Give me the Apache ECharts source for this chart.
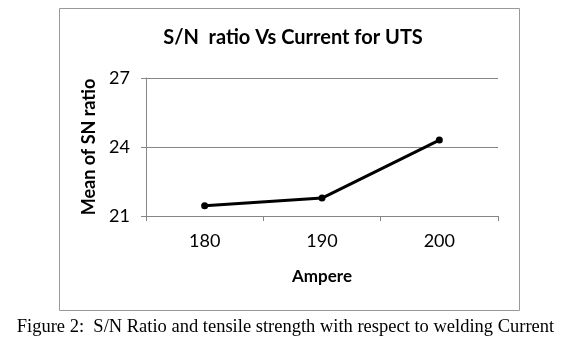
<!DOCTYPE html>
<html lang="en">
<head>
  <meta charset="UTF-8">
  <script src="https://cdn.jsdelivr.net/npm/echarts@6.0.0/dist/echarts.min.js"></script>
  <style>
    body, html { margin: 0; padding: 0; width: 100%; height: 100%; background: #fff; overflow: hidden; }
    #main { width: 571px; height: 350px; }
  </style>
</head>
<body>
  <div id="main"></div>
  <script type="text/javascript">
    // data
    var amperes = ['180', '190', '200'];
    var snMeans = [21.45, 21.78, 24.3];
    var yTicks = { min: 21, max: 27, step: 3 };

    var chart = echarts.init(document.getElementById('main'));
    var axisGray = '#868686';
    var font = 'Lato, "Open Sans", sans-serif';

    var option = {
      backgroundColor: '#fff',
      animation: false,
      title: {
        text: 'S/N  ratio Vs Current for UTS',
        left: 288,
        top: 23,
        textAlign: 'center',
        textStyle: { fontFamily: font, fontSize: 20, fontWeight: 'bold', color: '#000' }
      },
      grid: { left: 146, right: 73, top: 78, bottom: 134 },
      xAxis: {
        type: 'category',
        data: amperes,
        boundaryGap: true,
        name: 'Ampere',
        nameLocation: 'middle',
        nameGap: 52,
        nameTextStyle: { fontFamily: font, fontSize: 17, fontWeight: 'bold', color: '#000' },
        axisLine: { lineStyle: { color: axisGray, width: 1 } },
        axisTick: { show: true, length: 5, lineStyle: { color: axisGray } },
        axisLabel: { fontFamily: font, fontSize: 18, color: '#000', margin: 16 }
      },
      yAxis: {
        type: 'value',
        min: yTicks.min,
        max: yTicks.max,
        interval: yTicks.step,
        name: 'Mean of SN ratio',
        nameLocation: 'middle',
        nameGap: 46,
        nameTextStyle: { fontFamily: font, fontSize: 18, fontWeight: 'bold', color: '#000' },
        axisLine: { show: true, lineStyle: { color: axisGray, width: 1 } },
        axisTick: { show: true, length: 5, lineStyle: { color: axisGray } },
        axisLabel: { fontFamily: font, fontSize: 18, color: '#000', margin: 16 },
        splitLine: { show: true, lineStyle: { color: axisGray, width: 1 } }
      },
      series: [{
        type: 'line',
        data: snMeans,
        symbol: 'circle',
        symbolSize: 7,
        lineStyle: { color: '#000', width: 3 },
        itemStyle: { color: '#000' }
      }],
      graphic: [
        {
          type: 'rect',
          shape: { x: 59.5, y: 8.5, width: 460, height: 302 },
          style: { fill: null, stroke: '#999', lineWidth: 1 },
          silent: true
        },
        {
          type: 'text',
          left: 'center',
          top: 318,
          style: {
            text: 'Figure 2:  S/N Ratio and tensile strength with respect to welding Current',
            font: '18.5px "Liberation Serif", "Times New Roman", serif',
            fill: '#000'
          }
        }
      ]
    };

    chart.setOption(option);
  </script>
</body>
</html>
